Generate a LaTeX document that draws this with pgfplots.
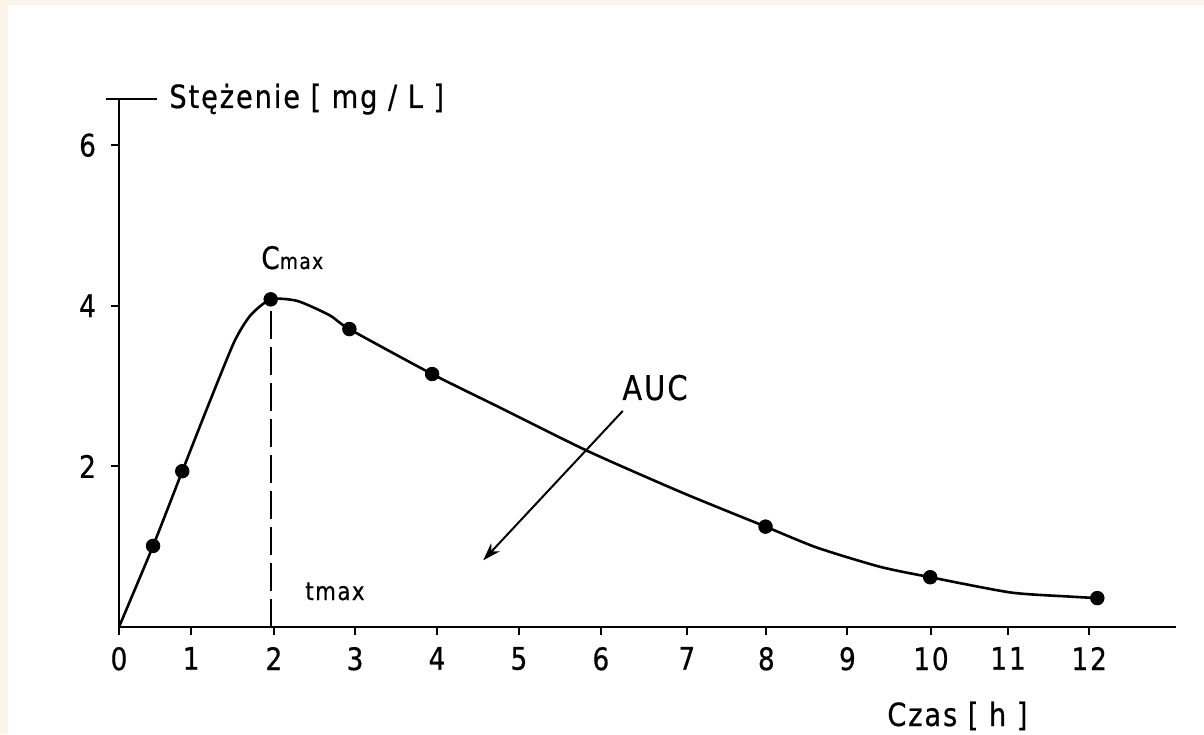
\documentclass[border=0pt]{standalone}
\usepackage{pgfplots}
\pgfplotsset{compat=1.18}
\usetikzlibrary{arrows.meta}
\usepackage{fontspec}
\setmainfont[FakeStretch=0.85,LetterSpace=6,FakeBold=0.6]{DejaVu Sans}
\definecolor{cream}{HTML}{FCF4E8}
\begin{document}
\begin{tikzpicture}
\begin{scope}[x=0.5pt,y=-0.5pt,yshift=367pt]
\path[use as bounding box] (0,0) rectangle (1204,734);
\fill[cream] (0,0) rectangle (1204,734);
\fill[white] (8,5) rectangle (1204,734);
\end{scope}
\begin{axis}[
  scale only axis, width=528.5pt, height=264pt,
  at={(59.5pt,53.5pt)}, anchor=south west,
  xmin=0, xmax=13.03, ymin=0, ymax=6.575,
  axis x line=bottom, axis y line=left,
  axis line style={line width=1.3pt,-},
  xtick={0,0.89,1.91,2.91,3.92,4.93,5.94,7.0,7.98,8.98,10.01,10.96,11.96},
  xticklabels={0,1,2,3,4,5,6,7,8,9,10,11,12},
  ytick={2,4,6},
  tick style={line width=1pt,black}, tick align=outside, major tick length=4pt,
  ticklabel style={font=\fontsize{15.5}{16}\selectfont},
  xticklabel style={yshift=-2.5pt},
  yticklabel style={xshift=-4pt},
  /pgf/number format/assume math mode=true,
  clip=false,
]
\addplot[line width=1.3pt, smooth, tension=0.4] coordinates {
(0,0) (0.42,1.01) (0.78,1.94) (1.1,2.76) (1.42,3.55) (1.62,3.88) (1.87,4.08)
(2.2,4.06) (2.6,3.88) (2.84,3.71) (3.86,3.15) (4.66,2.75) (5.78,2.19)
(6.95,1.67) (7.97,1.25) (8.6,0.99) (9.38,0.75) (10.0,0.62) (10.99,0.43)
(11.7,0.38) (12.06,0.36)};
\addplot[only marks, mark=*, mark size=3.4pt, black] coordinates {
(0.42,1.01) (0.78,1.94) (1.87,4.08) (2.84,3.71) (3.86,3.15) (7.97,1.25) (10.0,0.62) (12.06,0.36)};
\addplot[line width=1pt, dash pattern=on 14pt off 4pt] coordinates {(1.87,0) (1.87,4.08)};
\draw[line width=1.2pt] (axis cs:-0.16,6.575) -- (axis cs:0.47,6.575);
\draw[line width=1pt, -{Stealth[length=9pt,width=6pt]}] (axis cs:6.21,2.69) -- (axis cs:4.49,0.83);
\end{axis}
\begin{scope}[x=0.5pt,y=-0.5pt,yshift=367pt]
\node[anchor=base west, inner sep=0, font=\fontsize{16}{18}\selectfont] at (169,108) {Stężenie [ mg / L ]};
\node[anchor=base west, inner sep=0] at (261,269) {\fontsize{15.5}{16}\selectfont C\fontsize{11}{12}\selectfont max};
\node[anchor=base west, inner sep=0, font=\fontsize{12.5}{14}\selectfont] at (305,600) {tmax};
\node[anchor=base west, inner sep=0, font=\fontsize{17}{18}\selectfont] at (622,400) {AUC};
\node[anchor=base west, inner sep=0, font=\fontsize{16}{18}\selectfont] at (887,726) {Czas [ h ]};
\end{scope}
\end{tikzpicture}
\end{document}
